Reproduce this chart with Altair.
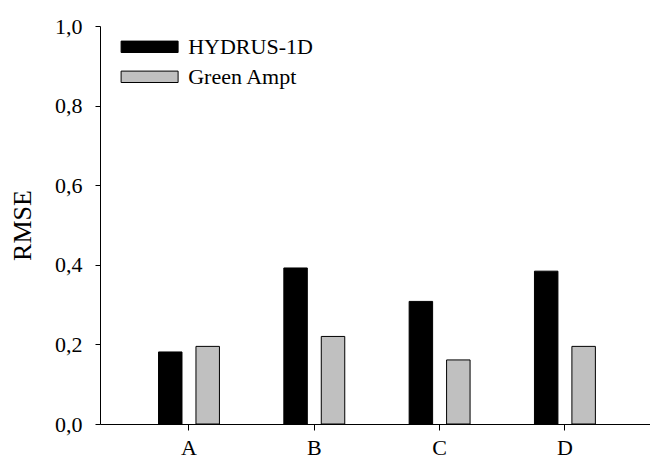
import altair as alt
import pandas as pd

categories = ["A", "B", "C", "D"]
models = ["HYDRUS-1D", "Green Ampt"]
hydrus = [0.181, 0.392, 0.308, 0.384]
green_ampt = [0.195, 0.220, 0.161, 0.195]
y_ticks = [0.0, 0.2, 0.4, 0.6, 0.8, 1.0]

rows = []
for c, h, g in zip(categories, hydrus, green_ampt):
    rows.append({"cat": c, "model": models[0], "rmse": h})
    rows.append({"cat": c, "model": models[1], "rmse": g})
df = pd.DataFrame(rows)

FONT = "Liberation Serif"

chart = alt.Chart(df).mark_bar(stroke="black", strokeWidth=1).encode(
    x=alt.X(
        "cat:N",
        sort=categories,
        scale=alt.Scale(paddingInner=0, paddingOuter=0.1945, align=0.54),
        axis=alt.Axis(title=None, labelAngle=0, labelFont=FONT, labelFontSize=22,
                      labelColor="black", tickSize=6, labelPadding=7,
                      domainColor="black", tickColor="black"),
    ),
    xOffset=alt.XOffset("model:N", sort=models,
                        scale=alt.Scale(paddingInner=0.373, paddingOuter=0.86)),
    y=alt.Y(
        "rmse:Q",
        scale=alt.Scale(domain=[0, 1]),
        axis=alt.Axis(title="RMSE", values=y_ticks, grid=False,
                      labelExpr="replace(format(datum.value, '.1f'), '.', ',')",
                      labelFont=FONT, labelFontSize=22, labelColor="black",
                      tickSize=5, labelPadding=13, titleFont=FONT, titleFontSize=26,
                      titleFontWeight="normal", titleColor="black", titlePadding=19,
                      domainColor="black", tickColor="black"),
    ),
    color=alt.Color(
        "model:N",
        sort=models,
        scale=alt.Scale(domain=models, range=["#000000", "#c0c0c0"]),
        legend=alt.Legend(
            title=None, orient="none", legendX=37.6, legendY=8.8,
            symbolType="M-2.5,-0.5H2.5V0.5H-2.5Z", symbolSize=520,
            symbolStrokeColor="black", symbolStrokeWidth=1, symbolOpacity=1,
            labelFont=FONT, labelFontSize=22, labelColor="black",
            labelOffset=26.6, rowPadding=7, padding=0,
        ),
    ),
).properties(
    width=550,
    height=398,
    padding={"left": 100, "top": 26, "right": 0, "bottom": 35},
    autosize=alt.AutoSizeParams(type="none"),
).configure_view(stroke=None)

chart.save("out.html", embed_options={"renderer": "svg", "actions": False})
